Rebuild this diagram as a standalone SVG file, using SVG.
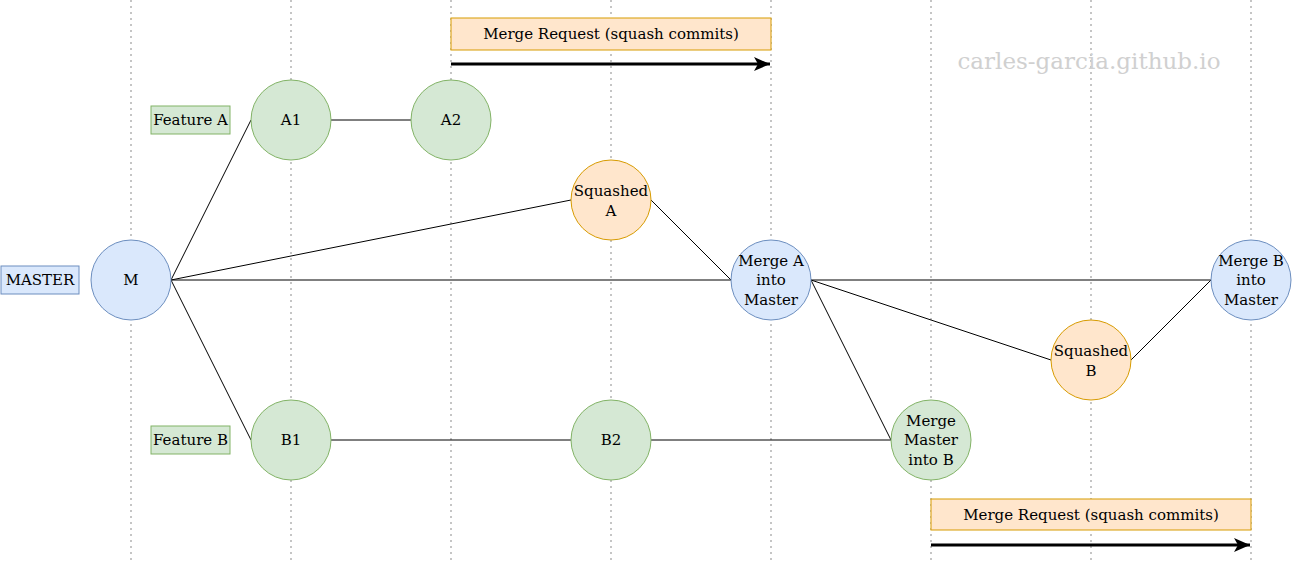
<svg xmlns="http://www.w3.org/2000/svg" width="1293" height="564" viewBox="0 0 1293 564">
<style>
text{font-family:"DejaVu Serif","Liberation Serif",serif;font-size:15px;fill:#000;text-anchor:middle;dominant-baseline:central}
.grid{stroke:#b3b3b3;stroke-width:1.5;stroke-dasharray:2 4}
.edge{stroke:#000;stroke-width:1;fill:none}
.blue{fill:#dae8fc;stroke:#6c8ebf}
.green{fill:#d5e8d4;stroke:#82b366}
.orange{fill:#ffe6cc;stroke:#d79b00}
.arrow{stroke:#000;stroke-width:3;fill:none}
.wm{font-size:23px;fill:#d0d0d0}
</style>
<defs>
<marker id="ah" markerWidth="16" markerHeight="14" refX="16" refY="7" orient="auto" markerUnits="userSpaceOnUse" viewBox="0 0 16 14">
<path d="M0,0 L16,7 L0,14 L4,7 Z" fill="#000"/>
</marker>
</defs>
<rect width="1293" height="564" fill="#fff"/>
<g id="grid">
<line class="grid" x1="131" y1="0" x2="131" y2="564"/>
<line class="grid" x1="291" y1="0" x2="291" y2="564"/>
<line class="grid" x1="451" y1="0" x2="451" y2="564"/>
<line class="grid" x1="611" y1="0" x2="611" y2="564"/>
<line class="grid" x1="771" y1="0" x2="771" y2="564"/>
<line class="grid" x1="931" y1="0" x2="931" y2="564"/>
<line class="grid" x1="1091" y1="0" x2="1091" y2="564"/>
<line class="grid" x1="1251" y1="0" x2="1251" y2="564"/>
</g>
<text class="wm" x="1089" y="61">carles-garcia.github.io</text>
<g id="connectors">
<line class="edge" x1="171" y1="280" x2="251" y2="120"/>
<line class="edge" x1="171" y1="280" x2="251" y2="440"/>
<line class="edge" x1="171" y1="280" x2="571" y2="200"/>
<line class="edge" x1="171" y1="280" x2="731" y2="280"/>
<line class="edge" x1="331" y1="120" x2="411" y2="120"/>
<line class="edge" x1="651" y1="200" x2="731" y2="280"/>
<line class="edge" x1="811" y1="280" x2="1211" y2="280"/>
<line class="edge" x1="811" y1="280" x2="1051" y2="360"/>
<line class="edge" x1="811" y1="280" x2="891" y2="440"/>
<line class="edge" x1="1131" y1="360" x2="1211" y2="280"/>
<line class="edge" x1="331" y1="440" x2="571" y2="440"/>
<line class="edge" x1="651" y1="440" x2="891" y2="440"/>
<line class="arrow" x1="451" y1="64" x2="770" y2="64" marker-end="url(#ah)"/>
<line class="arrow" x1="931" y1="545" x2="1250" y2="545" marker-end="url(#ah)"/>
</g>
<g id="label-master"><rect class="blue" x="1" y="266" width="78" height="28"/><text x="40" y="280">MASTER</text></g>
<g id="label-feature-a"><rect class="green" x="151" y="106" width="79" height="28"/><text x="190.5" y="120">Feature A</text></g>
<g id="label-feature-b"><rect class="green" x="151" y="426" width="79" height="28"/><text x="190.5" y="440">Feature B</text></g>
<g id="mr-a"><rect class="orange" x="451" y="18" width="320" height="32"/><text x="611" y="34">Merge Request (squash commits)</text></g>
<g id="mr-b"><rect class="orange" x="931" y="499" width="320" height="31"/><text x="1091" y="515">Merge Request (squash commits)</text></g>
<g id="node-m"><circle class="blue" cx="131" cy="280" r="40"/><text x="131" y="280">M</text></g>
<g id="node-a1"><circle class="green" cx="291" cy="120" r="40"/><text x="291" y="120">A1</text></g>
<g id="node-a2"><circle class="green" cx="451" cy="120" r="40"/><text x="451" y="120">A2</text></g>
<g id="node-squashed-a"><circle class="orange" cx="611" cy="200" r="40"/><text x="611" y="191">Squashed</text><text x="611" y="211">A</text></g>
<g id="node-merge-a"><circle class="blue" cx="771" cy="280" r="40"/><text x="771" y="261">Merge A</text><text x="771" y="280">into</text><text x="771" y="300">Master</text></g>
<g id="node-b1"><circle class="green" cx="291" cy="440" r="40"/><text x="291" y="440">B1</text></g>
<g id="node-b2"><circle class="green" cx="611" cy="440" r="40"/><text x="611" y="440">B2</text></g>
<g id="node-merge-master-b"><circle class="green" cx="931" cy="440" r="40"/><text x="931" y="421">Merge</text><text x="931" y="440">Master</text><text x="931" y="460">into B</text></g>
<g id="node-squashed-b"><circle class="orange" cx="1091" cy="360" r="40"/><text x="1091" y="351">Squashed</text><text x="1091" y="371">B</text></g>
<g id="node-merge-b"><circle class="blue" cx="1251" cy="280" r="40"/><text x="1251" y="261">Merge B</text><text x="1251" y="280">into</text><text x="1251" y="300">Master</text></g>
</svg>
